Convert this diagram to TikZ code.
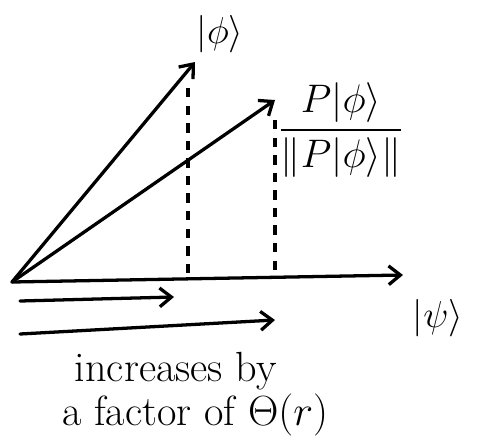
\RequirePackage{fix-cm}
\documentclass[tikz,border=0pt]{standalone}
\usepackage{amsmath}
\usepackage{amssymb}
\usepackage{tikz}
\usetikzlibrary{
  arrows.meta,
  positioning
}
\usepackage{xcolor}
\tikzset{
  vec arrow/.style={
    -{Straight Barb[length=10pt,width=16pt]}, line width=2.8pt,
    line cap=round, draw=black
  },
  proj line/.style={
    line width=2.8pt, draw=black, dash pattern=on 8pt off 7pt
  },
  big label/.style={
    font=\fontsize{32}{38}\selectfont, inner sep=0pt
  },
  frac label/.style={
    font=\fontsize{34}{40}\selectfont, inner sep=0pt
  },
  note text/.style={
    font=\fontsize{36}{37}\selectfont, align=left, inner sep=0pt
  },
}

\begin{document}
\begin{tikzpicture}[x=0.03cm, y=-0.03cm]

  \useasboundingbox (0,0) rectangle (477,439);

  \coordinate (orig)  at (12,282);
  \coordinate (psi)   at (403,275);
  \coordinate (phi)   at (195,62);
  \coordinate (pphi)  at (275,100);

  \coordinate (phi top)  at (188,88);
  \coordinate (phi foot) at (188,280);
  \coordinate (pphi top)  at (275,120);
  \coordinate (pphi foot) at (275,278);

  \coordinate (short a) at (20,301);
  \coordinate (short b) at (174,297);
  \coordinate (long a)  at (20,334);
  \coordinate (long b)  at (275,320);

  \node[big label] (psi lbl)  at (438,318) {$|\psi\rangle$};
  \node[big label] (phi lbl)  at (220,34)  {$|\phi\rangle$};
  \node[frac label] (pphi lbl) at (341,130)
    {$\dfrac{P|\phi\rangle}{\|P|\phi\rangle\|}$};

  \node[note text, anchor=west] (note) at (62,394)
    {\hspace*{0.3em}increases by\\a factor of $\Theta(r)$};

  \draw[vec arrow] (orig) -- (psi);
  \draw[vec arrow] (orig) -- (phi);
  \draw[vec arrow] (orig) -- (pphi);

  \draw[proj line] (phi top)  -- (phi foot);
  \draw[proj line] (pphi top) -- (pphi foot);

  \draw[vec arrow] (short a) -- (short b);
  \draw[vec arrow] (long a)  -- (long b);

\end{tikzpicture}
\end{document}
